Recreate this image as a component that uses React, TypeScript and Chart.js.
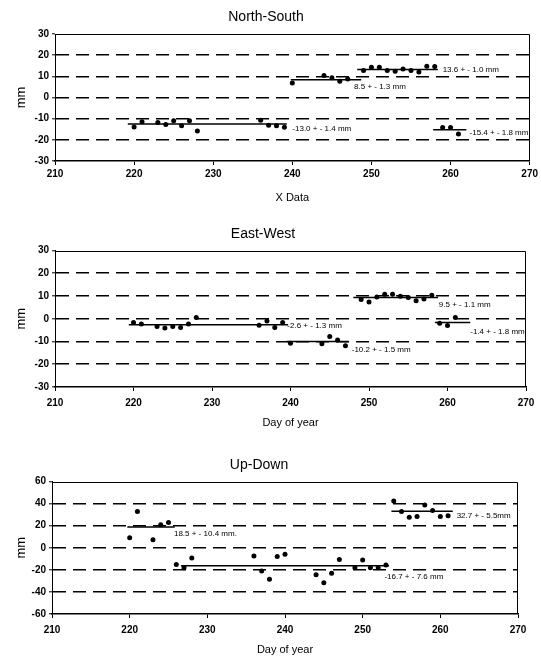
import React, { useEffect, useRef } from "react";
import { Chart, registerables } from "chart.js";

Chart.register(...registerables);

const FONT = "'Liberation Sans', Arial, sans-serif";

// Shared x axis
const xMin = 210;
const xMax = 270;
const xStep = 10;

// ---------- North-South ----------
const nsDays = [220, 221, 223, 224, 225, 226, 227, 228, 236, 237, 238, 239, 240, 244, 245, 246, 247, 249, 250, 251, 252, 253, 254, 255, 256, 257, 258, 259, 260, 261];
const nsValues = [-13.9, -11.5, -11.8, -12.8, -11, -13.4, -11, -15.8, -10.8, -13.1, -13.3, -14, 6.8, 10.4, 9.3, 7.7, 8.7, 12.8, 14.3, 14.3, 12.8, 12.4, 13.5, 12.8, 12, 14.8, 14.6, -14.2, -14.2, -17.3];
const nsMeanStart = [219.2, 239.8, 248.2, 257.8];
const nsMeanEnd = [239.3, 248.7, 258.4, 262];
const nsMeanValue = [-12.5, 8.4, 13.2, -15.2];
const nsLabels = ["-13.0 + - 1.4 mm", "8.5 + - 1.3 mm", "13.6 + - 1.0 mm", "-15.4 + - 1.8 mm"];
const nsLabelDay = [240, 247.8, 259.0, 262.4];
const nsLabelValue = [-14.7, 5.2, 13.1, -16.9];

// ---------- East-West ----------
const ewDays = [220, 221, 223, 224, 225, 226, 227, 228, 236, 237, 238, 239, 240, 244, 245, 246, 247, 249, 250, 251, 252, 253, 254, 255, 256, 257, 258, 259, 260, 261];
const ewValues = [-1.7, -2.3, -3.4, -4.1, -3.4, -3.8, -2.3, 0.5, -2.9, -1.0, -3.8, -1.6, -10.8, -11.0, -7.8, -9.3, -11.9, 8.5, 7.4, 9.6, 10.8, 10.8, 9.9, 9.3, 7.9, 8.7, 10.3, -2.0, -3.0, 0.6];
const ewMeanStart = [219.4, 239.5, 248, 258.4];
const ewMeanEnd = [239.7, 247.4, 258.8, 262.9];
const ewMeanValue = [-2.6, -10, 9.3, -1.6];
const ewLabels = ["-2.6 + - 1.3 mm", "-10.2 + - 1.5 mm", "9.5 + - 1.1 mm", "-1.4 + - 1.8 mm"];
const ewLabelDay = [239.6, 247.8, 258.9, 262.9];
const ewLabelValue = [-3.3, -13.8, 6.3, -5.9];

// ---------- Up-Down ----------
const udDays = [220, 221, 223, 224, 225, 226, 227, 228, 236, 237, 238, 239, 240, 244, 245, 246, 247, 249, 250, 251, 252, 253, 254, 255, 256, 257, 258, 259, 260, 261];
const udValues = [9.1, 32.8, 7.3, 20.8, 22.9, -15.1, -18.1, -9.2, -7.4, -21.1, -28.6, -8.0, -5.9, -24.4, -31.6, -23.2, -10.7, -18, -11, -18.1, -18.1, -15.7, 42.3, 32.8, 27.7, 28.3, 38.7, 33.7, 28.3, 28.9];
const udMeanStart = [219.7, 226.6, 253.7];
const udMeanEnd = [225.8, 253.4, 261.6];
const udMeanValue = [18.7, -16.3, 33];
const udLabels = ["18.5 + - 10.4 mm.", "-16.7 + - 7.6 mm", "32.7 + - 5.5mm"];
const udLabelDay = [225.7, 252.8, 262.1];
const udLabelValue = [12.2, -26.6, 29.3];

const framePlugin = {
  id: "frame",
  beforeDatasetsDraw(chart: any) {
    const { ctx, chartArea } = chart;
    const l = Math.round(chartArea.left);
    const t = Math.round(chartArea.top) + 0.5;
    const r = Math.round(chartArea.right) - 0.5;
    const b = Math.round(chartArea.bottom);
    ctx.save();
    ctx.strokeStyle = "#000";
    ctx.lineWidth = 1;
    ctx.setLineDash([]);
    ctx.beginPath();
    ctx.moveTo(l, t);
    ctx.lineTo(r, t);
    ctx.lineTo(r, b);
    ctx.stroke();
    ctx.restore();
  },
};

const labelPlugin = {
  id: "segLabels",
  afterDatasetsDraw(chart: any, _args: any, opts: any) {
    const { ctx } = chart;
    const xs = chart.scales.x;
    const ys = chart.scales.y;
    ctx.save();
    ctx.fillStyle = "#000";
    ctx.font = `8px ${FONT}`;
    ctx.textAlign = "left";
    ctx.textBaseline = "middle";
    (opts.texts || []).forEach((t: string, i: number) => {
      ctx.fillText(t, xs.getPixelForValue(opts.days[i]), ys.getPixelForValue(opts.values[i]));
    });
    ctx.restore();
  },
};

type PanelProps = {
  top: number;
  height: number;
  title: string;
  xTitle: string;
  yMin: number;
  yMax: number;
  yStep: number;
  days: number[];
  values: number[];
  segStart: number[];
  segEnd: number[];
  segValue: number[];
  labels: string[];
  labelDay: number[];
  labelValue: number[];
  axisLeft: number;
  rightPad: number;
  titlePadTop: number;
  titlePadBottom: number;
  xTickPad: number;
  xTitlePadBottom: number;
  xAxisHeight: number;
};

function Panel(p: PanelProps) {
  const ref = useRef<HTMLCanvasElement>(null);
  useEffect(() => {
    if (!ref.current) return;
    const datasets: any[] = [
      {
        type: "scatter",
        data: p.days.map((d, i) => ({ x: d, y: p.values[i] })),
        pointRadius: 2.5,
        pointBackgroundColor: "#000",
        pointBorderColor: "#000",
        pointBorderWidth: 0,
        showLine: false,
      },
      ...p.segStart.map((s, i) => ({
        type: "scatter",
        data: [
          { x: s, y: p.segValue[i] },
          { x: p.segEnd[i], y: p.segValue[i] },
        ],
        showLine: true,
        borderColor: "#000",
        borderWidth: 1.5,
        pointRadius: 0,
      })),
    ];
    const chart = new Chart(ref.current, {
      type: "scatter",
      data: { datasets },
      options: {
        animation: false,
        responsive: false,
        layout: { padding: { left: 0, right: p.rightPad, top: 0, bottom: 0 } },
        plugins: {
          legend: { display: false },
          tooltip: { enabled: false },
          title: {
            display: true,
            text: p.title,
            color: "#000",
            font: { family: FONT, size: 14, weight: "normal" },
            padding: { top: p.titlePadTop, bottom: p.titlePadBottom },
          },
          segLabels: { texts: p.labels, days: p.labelDay, values: p.labelValue },
        } as any,
        scales: {
          x: {
            type: "linear",
            min: xMin,
            max: xMax,
            ticks: {
              stepSize: xStep,
              color: "#000",
              font: { family: FONT, size: 10, weight: "bold" },
              padding: p.xTickPad,
              maxRotation: 0,
            },
            grid: { drawOnChartArea: false, drawTicks: true, tickLength: 4, tickColor: "#000", tickWidth: 1 },
            border: { display: true, color: "#000", width: 1.5 },
            title: {
              display: true,
              text: p.xTitle,
              color: "#000",
              font: { family: FONT, size: 11, weight: "normal" },
              padding: { top: 0, bottom: p.xTitlePadBottom },
            },
            afterFit: (s: any) => {
              s.height = p.xAxisHeight;
            },
          },
          y: {
            type: "linear",
            min: p.yMin,
            max: p.yMax,
            ticks: {
              stepSize: p.yStep,
              color: "#000",
              font: { family: FONT, size: 10, weight: "bold" },
              padding: 3,
            },
            grid: {
              color: (c: any) =>
                c.tick && (c.tick.value === p.yMin || c.tick.value === p.yMax) ? "rgba(0,0,0,0)" : "#000",
              lineWidth: 1.6,
              tickLength: 3,
              tickColor: "#000",
              tickWidth: 1,
            },
            border: { display: true, color: "#000", width: 1, dash: [13, 7] },
            title: {
              display: true,
              text: "mm",
              color: "#000",
              font: { family: FONT, size: 13, weight: "normal" },
              padding: { top: 14, bottom: 0 },
            },
            afterFit: (s: any) => {
              s.width = p.axisLeft;
            },
          },
        },
      } as any,
      plugins: [framePlugin, labelPlugin],
    });
    return () => chart.destroy();
  }, []);
  return (
    <canvas
      ref={ref}
      width={541}
      height={p.height}
      style={{ position: "absolute", left: 0, top: p.top, width: 541, height: p.height }}
    />
  );
}

export default function App() {
  return (
    <div style={{ position: "absolute", left: 0, top: 0, width: 541, height: 657, background: "#fff" }}>
      <Panel
        top={0}
        height={210}
        title="North-South"
        xTitle="X Data"
        yMin={-30}
        yMax={30}
        yStep={10}
        days={nsDays}
        values={nsValues}
        segStart={nsMeanStart}
        segEnd={nsMeanEnd}
        segValue={nsMeanValue}
        labels={nsLabels}
        labelDay={nsLabelDay}
        labelValue={nsLabelValue}
        axisLeft={55}
        rightPad={9}
        titlePadTop={8.6}
        titlePadBottom={8.6}
        xTickPad={3}
        xTitlePadBottom={5.4}
        xAxisHeight={49}
      />
      <Panel
        top={210}
        height={220}
        title="East-West"
        xTitle="Day of year"
        yMin={-30}
        yMax={30}
        yStep={10}
        days={ewDays}
        values={ewValues}
        segStart={ewMeanStart}
        segEnd={ewMeanEnd}
        segValue={ewMeanValue}
        labels={ewLabels}
        labelDay={ewLabelDay}
        labelValue={ewLabelValue}
        axisLeft={55}
        rightPad={15}
        titlePadTop={15.6}
        titlePadBottom={8.1}
        xTickPad={6}
        xTitlePadBottom={0.4}
        xAxisHeight={43}
      />
      <Panel
        top={430}
        height={227}
        title="Up-Down"
        xTitle="Day of year"
        yMin={-60}
        yMax={60}
        yStep={20}
        days={udDays}
        values={udValues}
        segStart={udMeanStart}
        segEnd={udMeanEnd}
        segValue={udMeanValue}
        labels={udLabels}
        labelDay={udLabelDay}
        labelValue={udLabelValue}
        axisLeft={52}
        rightPad={23}
        titlePadTop={26.6}
        titlePadBottom={8.1}
        xTickPad={6}
        xTitlePadBottom={0.4}
        xAxisHeight={43}
      />
    </div>
  );
}
